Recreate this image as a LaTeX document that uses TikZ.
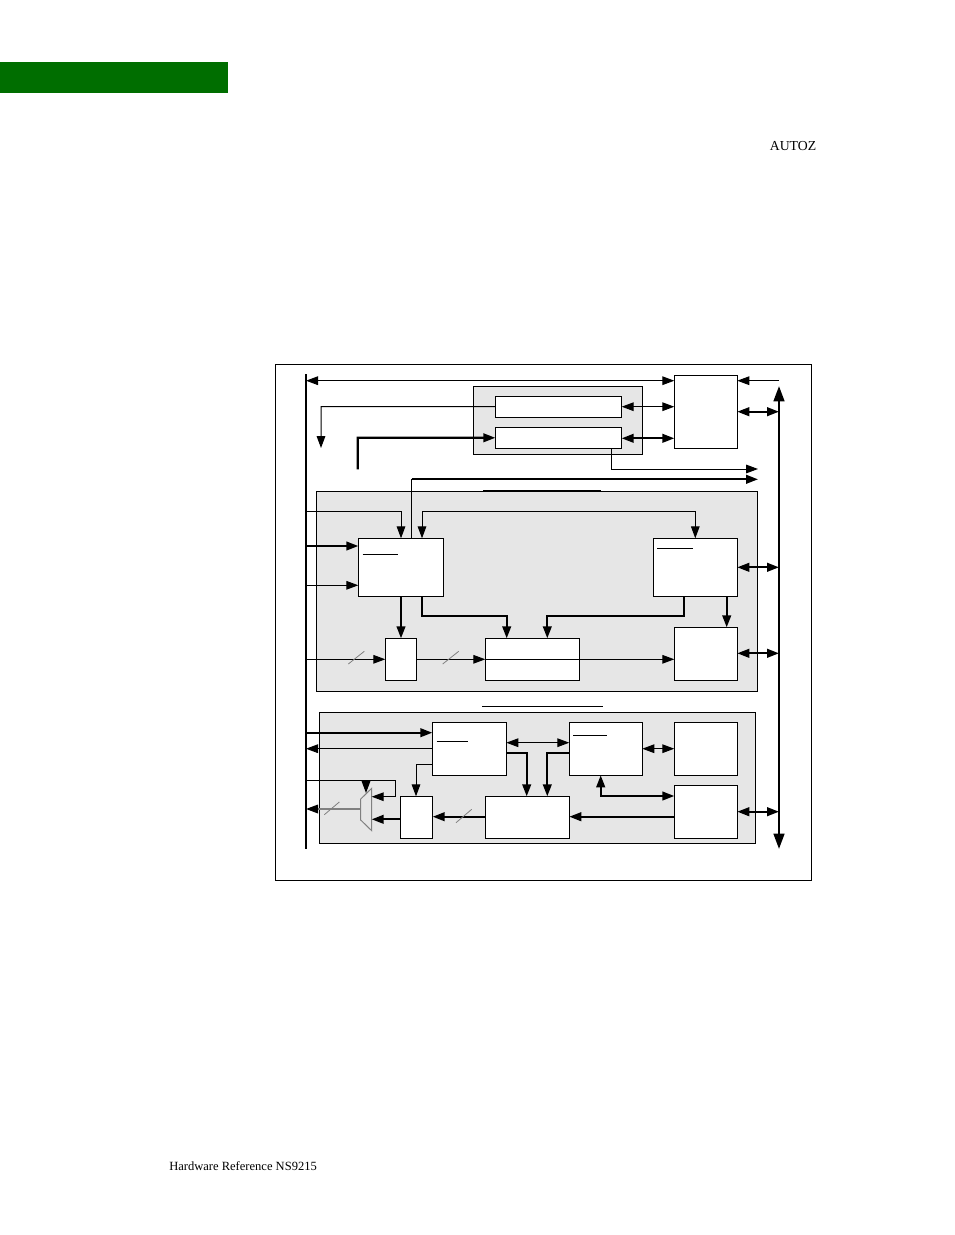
\documentclass[tikz,border=0pt]{standalone}
\usepackage{fontspec}
\setmainfont{Liberation Serif}
\usetikzlibrary{arrows.meta}
\definecolor{hdrgreen}{RGB}{0,110,0}
\definecolor{panelgray}{RGB}{230,230,230}
\begin{document}
\begin{tikzpicture}[x=0.75pt,y=-0.75pt,
  th/.style={line width=0.75pt},
  tk/.style={line width=1.6pt},
  ar/.style={-{Triangle[length=9pt,width=6.5pt]}},
  dar/.style={{Triangle[length=9pt,width=6.5pt]}-{Triangle[length=9pt,width=6.5pt]}},
  bx/.style={draw, fill=white, line width=0.75pt, inner sep=0pt, outer sep=0pt, anchor=north west},
  pnl/.style={draw, fill=panelgray, line width=0.75pt, inner sep=0pt, outer sep=0pt, anchor=north west},
  sz/.style 2 args={minimum width=#1*0.75pt, minimum height=#2*0.75pt},
  slash/.style={draw=gray, line width=0.6pt}]
\useasboundingbox (0,0) rectangle (954,1235);
% header bar and page texts
\fill[hdrgreen] (0,62) rectangle (228,93);
\node[font=\fontsize{10.3}{12}\selectfont, inner sep=0pt] (autoz) at (793,146) {AUTOZ};
\node[font=\fontsize{9.4}{12}\selectfont, anchor=west, inner sep=0pt] (foot) at (169,1166) {Hardware Reference NS9215};
% outer frame
\draw[line width=0.75pt] (275,364) rectangle (811,880);
% panels
\node[pnl, sz={169}{68}] (P1) at (473.3,386.3) {};
\node[pnl, sz={441.3}{200}] (P2) at (316,491) {};
\node[pnl, sz={435.7}{131}] (P3) at (319.3,712.3) {};
% heading lines
\draw[line width=1.4pt] (483,490.5) -- (601,490.5);
\draw[line width=1.1pt] (482,706.5) -- (603,706.5);
% boxes
\node[bx, sz={63}{73.3}] (A) at (674.3,375) {};
\node[bx, sz={126.4}{21.3}] (R1) at (495.3,396) {};
\node[bx, sz={126.4}{21}] (R2) at (495.3,427.3) {};
\node[bx, sz={85}{58}] (B) at (358.3,538.3) {};
\node[bx, sz={84}{58}] (C) at (653.3,538.3) {};
\node[bx, sz={31.4}{42}] (D) at (385.3,638.3) {};
\node[bx, sz={94}{42}] (E) at (485.3,638.3) {};
\node[bx, sz={63}{53}] (F) at (674.3,627.3) {};
\node[bx, sz={74}{53}] (G) at (432.3,722.3) {};
\node[bx, sz={73}{53}] (H) at (569.3,722.3) {};
\node[bx, sz={63}{53}] (I) at (674.3,722.3) {};
\node[bx, sz={63}{53.3}] (J) at (674.3,785) {};
\node[bx, sz={84}{41.7}] (K) at (485.3,796.3) {};
\node[bx, sz={32.4}{41.7}] (L) at (400.3,796.3) {};
% underlines inside boxes
\draw[th] (362.7,554) -- (397.7,554);
\draw[th] (657.3,548.3) -- (692.7,548.3);
\draw[th] (436.7,741.3) -- (468,741.3);
\draw[th] (573.3,735) -- (606.7,735);
% mux
\coordinate (muxR) at (371.7,809);
\draw[gray, line width=0.75pt] (360.7,799) -- (371.7,788.3) -- (371.7,830.7) -- (360.7,820) -- cycle;
% buses
\coordinate (LB) at (306,374);
\coordinate (LBb) at (306,849);
\coordinate (RB) at (779,386);
\coordinate (RBb) at (779,849);
\draw[line width=1.8pt] (LB) -- (LBb);
\draw[line width=1.8pt, {Triangle[length=11.5pt,width=8pt]}-{Triangle[length=11.5pt,width=8pt]}] (RB) -- (RBb);
% top area
\draw[th,dar] (LB |- 0,380.7) -- (A.west |- 0,380.7);
\draw[th,ar] (RB |- 0,380.7) -- (A.east |- 0,380.7);
\draw[tk,dar] (A.east |- 0,411.7) -- (RB |- 0,411.7);
\draw[th,dar] (R1.east |- 0,406.7) -- (A.west |- 0,406.7);
\draw[tk,dar] (R2.east |- 0,438.3) -- (A.west |- 0,438.3);
\draw[th,ar] (R1.west) -- (321,406.7) -- (321,448);
\coordinate (s1) at (357.7,469.3);
\draw[tk,ar] (s1) -- (357.7,437.7) -- (R2.west);
\coordinate (o1) at (758,469);
\draw[th,ar] (R2.south -| 611.3,0) -- (611.3,469) -- (o1);
\coordinate (o2) at (758,479.3);
\draw[tk,ar] (411.7,479.3) -- (o2);
\draw[th] (411.7,479.3) -- (B.north -| 411.7,0);
% middle panel
\draw[th,ar] (LB |- 0,511.7) -- (401,511.7) -- (B.north -| 401,0);
\draw[th,dar] (B.north -| 422,0) -- (422,511.7) -- (695.3,511.7) -- (C.north -| 695.3,0);
\draw[tk,ar] (LB |- 0,546) -- (B.west |- 0,546);
\draw[th,ar] (LB |- 0,585.3) -- (B.west |- 0,585.3);
\draw[tk,dar] (C.east |- 0,567.3) -- (RB |- 0,567.3);
\draw[tk,ar] (B.south -| 401,0) -- (D.north -| 401,0);
\draw[tk,ar] (B.south -| 422,0) -- (422,616) -- (506.7,616) -- (E.north -| 506.7,0);
\draw[tk,ar] (C.south -| 684.3,0) -- (684.3,616) -- (547.3,616) -- (E.north -| 547.3,0);
\draw[tk,ar] (C.south -| 726.7,0) -- (F.north -| 726.7,0);
\draw[th,ar] (LB |- D.west) -- (D.west);
\draw[th,ar] (D.east) -- (E.west);
\draw[th,ar] (E.west) -- (F.west |- E.west);
\draw[tk,dar] (F.east |- 0,653.3) -- (RB |- 0,653.3);
\draw[slash] (348.3,664) -- (364.3,651.3);
\draw[slash] (442.7,664) -- (458.7,651.3);
% bottom panel
\draw[tk,ar] (LB |- 0,732.7) -- (G.west |- 0,732.7);
\draw[th,ar] (G.west |- 0,748.7) -- (LB |- 0,748.7);
\draw[th,ar] (G.west |- 0,764.3) -- (416,764.3) -- (L.north -| 416,0);
\draw[tk,ar] (G.east |- 0,753.3) -- (526.7,753.3) -- (K.north -| 526.7,0);
\draw[tk,ar] (H.west |- 0,753.3) -- (547.3,753.3) -- (K.north -| 547.3,0);
\draw[th,dar] (G.east |- 0,742.7) -- (H.west |- 0,742.7);
\draw[th,dar] (H.east |- 0,748.7) -- (I.west |- 0,748.7);
\draw[tk,dar] (H.south -| 600.7,0) -- (600.7,796) -- (J.west |- 0,796);
\draw[tk,ar] (J.west |- 0,816.7) -- (K.east |- 0,816.7);
\draw[tk,dar] (J.east |- 0,811.7) -- (RB |- 0,811.7);
\draw[tk,ar] (K.west |- 0,816.7) -- (L.east |- 0,816.7);
\draw[slash] (456,822.7) -- (471.7,809.3);
\draw[tk,ar] (L.west |- 0,819.3) -- (muxR |- 0,819.3);
\draw[th,ar] (LB |- 0,780.3) -- (395,780.3) -- (395,796.7) -- (muxR |- 0,796.7);
\draw[th,ar] (366,780.3) -- (366,793);
\draw[gray, line width=0.9pt, -{Triangle[length=9pt,width=6.5pt,color=black]}] (360.7,809) -- (LB |- 0,809);
\draw[slash] (324.3,814.7) -- (339.3,802);
\end{tikzpicture}
\end{document}
